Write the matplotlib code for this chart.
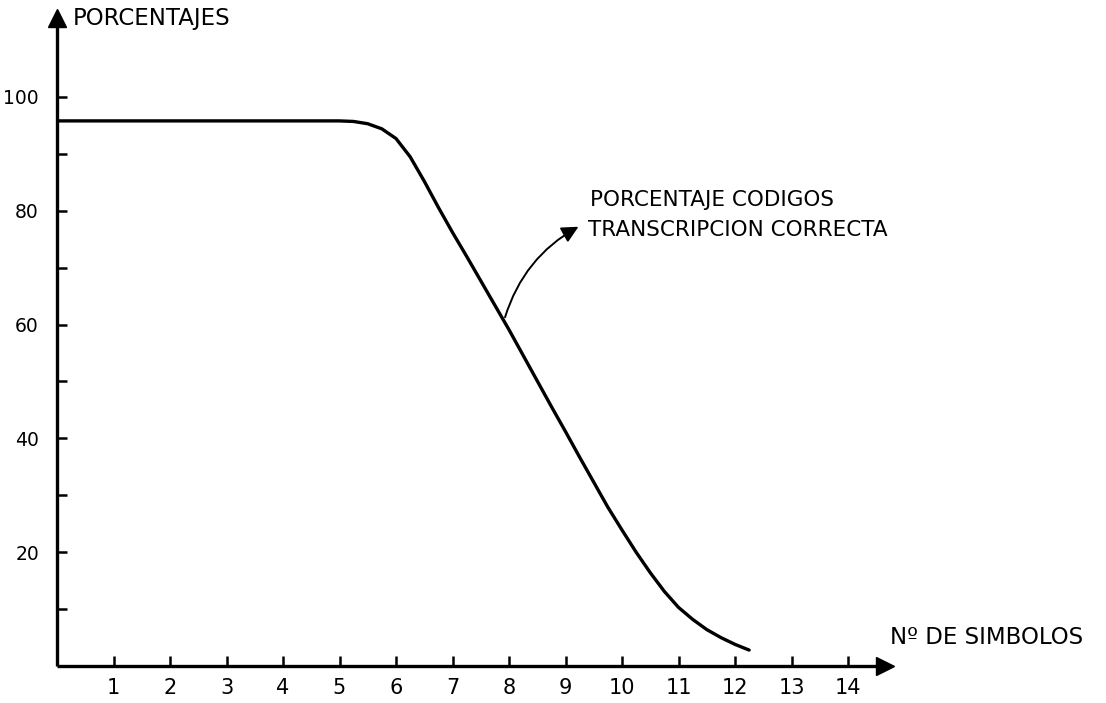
import matplotlib
matplotlib.use("Agg")
import matplotlib.pyplot as plt

# ---- data ----
x_vals = [0, 1, 2, 3, 4, 5, 5.25, 5.5, 5.75, 6, 6.25, 6.5, 6.75, 7, 7.25, 7.5,
          7.75, 8, 8.25, 8.5, 8.75, 9, 9.25, 9.5, 9.75, 10, 10.25, 10.5,
          10.75, 11, 11.25, 11.5, 11.75, 12, 12.25]
y_vals = [95.8, 95.8, 95.8, 95.8, 95.8, 95.8, 95.7, 95.3, 94.4, 92.7, 89.5,
          85.2, 80.6, 76.2, 72.0, 67.7, 63.4, 59.1, 54.6, 50.1, 45.6, 41.2,
          36.7, 32.3, 27.9, 23.9, 20.0, 16.4, 13.1, 10.3, 8.2, 6.4, 5.0,
          3.8, 2.8]
x_ticks = list(range(1, 15))
y_major = [20, 40, 60, 80, 100]
y_minor = [10, 30, 50, 70, 90]

series_label = ["PORCENTAJE CODIGOS", "TRANSCRIPCION CORRECTA"]
y_title = "PORCENTAJES"
x_title = "Nº DE SIMBOLOS"

# ---- layout ----
W, H = 1106, 703
fig = plt.figure(figsize=(W / 100, H / 100), dpi=100)
x0px, y0px = 57, 666
sx, sy = 56.5, 5.69
xmax, ymax = 14.65, 113.9
ax = fig.add_axes([x0px / W, (H - y0px) / H, xmax * sx / W, ymax * sy / H])
ax.set_xlim(0, xmax)
ax.set_ylim(0, ymax)
ax.patch.set_alpha(0)

for s in ["top", "right"]:
    ax.spines[s].set_visible(False)
for s in ["left", "bottom"]:
    ax.spines[s].set_linewidth(2.4)
    ax.spines[s].set_capstyle("butt")

# axis arrow heads
ax.plot(1, 0, marker=">", color="black", ms=13, transform=ax.get_yaxis_transform(),
        clip_on=False)
ax.plot(0, 1, marker="^", color="black", ms=13, transform=ax.get_xaxis_transform(),
        clip_on=False)

ax.set_xticks(x_ticks)
ax.set_xticklabels([str(t) for t in x_ticks])
ax.set_yticks(y_major)
ax.set_yticklabels([str(t) for t in y_major])
ax.set_yticks(y_minor, minor=True)
ax.tick_params(axis="both", which="both", direction="in", length=7, width=1.8,
               colors="black")
ax.tick_params(axis="x", labelsize=15, pad=9)
ax.tick_params(axis="y", labelsize=13.5, pad=13)

# curve
ax.plot(x_vals, y_vals, color="black", lw=2.4, solid_capstyle="round",
        solid_joinstyle="round")

# annotation arrow
ax.annotate("", xy=(9.23, 77.2), xytext=(7.93, 61.3),
            arrowprops=dict(arrowstyle="-|>,head_length=1.0,head_width=0.5",
                            lw=1.4, color="black",
                            connectionstyle="arc3,rad=-0.2",
                            shrinkA=0, shrinkB=0),
            annotation_clip=False)

fig.text(590 / W, 1 - 200 / H, series_label[0], fontsize=15.5, va="center",
         ha="left", color="black")
fig.text(588 / W, 1 - 230 / H, series_label[1], fontsize=15.5, va="center",
         ha="left", color="black")
fig.text(73 / W, 1 - 18 / H, y_title, fontsize=16.5, va="center", ha="left",
         color="black")
fig.text(890 / W, 1 - 638 / H, x_title, fontsize=16.5, va="center", ha="left",
         color="black")

fig.savefig("out.png", dpi=100, facecolor="white")
